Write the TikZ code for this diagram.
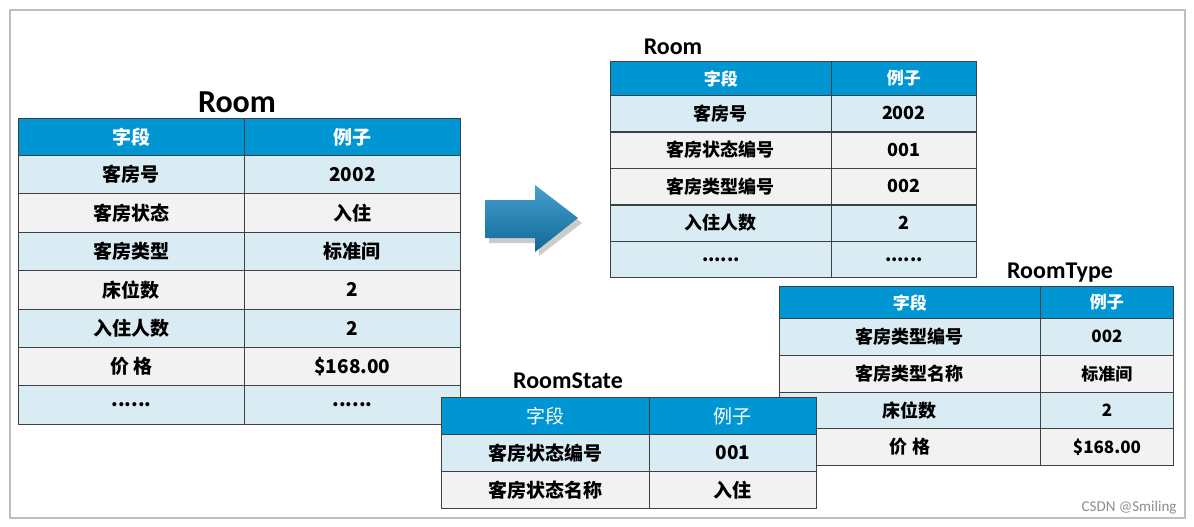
\documentclass[tikz,border=0pt]{standalone}
\usepackage{fontspec}
\setmainfont{Noto Sans CJK SC}
\newfontfamily\latinfont{Carlito}
\usetikzlibrary{positioning}

\definecolor{headblue}{RGB}{0,150,212}
\definecolor{rowblue}{RGB}{218,236,243}
\definecolor{rowgray}{RGB}{242,242,242}
\definecolor{arrowdark}{RGB}{16,104,150}
\definecolor{arrowlight}{RGB}{70,160,205}
\newcommand{\moredots}{......}

\tikzset{
  cell/.style={draw=black!75, line width=0.9pt, anchor=north west, inner sep=0pt, font=\bfseries\fontsize{19}{22}\selectfont},
  headcell/.style={cell, fill=headblue, text=white},
  title/.style={font=\latinfont\bfseries\fontsize{24}{28}\selectfont, inner sep=0pt}
}

\begin{document}
\begin{tikzpicture}[x=1pt, y=-1pt]
\useasboundingbox (0,0) rectangle (1194,527);
% frame
\draw[black!25, line width=1.2pt] (10,10) rectangle (1185,518);

% left table: Room
\node[title, font=\latinfont\bfseries\fontsize{32}{36}\selectfont] (roomA) at (237,102) {Room};
\node[headcell, minimum width=226, minimum height=37] (ha1) at (18,118) {字段};
\node[headcell, minimum width=216, minimum height=37] (ha2) at (244,118) {例子};
\foreach \k/\v/\c [count=\i] in {客房号/2002/rowblue, 客房状态/入住/rowgray, 客房类型/标准间/rowblue,
    床位数/2/rowgray, 入住人数/2/rowblue, 价 格/\$168.00/rowgray, \moredots/\moredots/rowblue} {
  \node[cell, fill=\c, minimum width=226, minimum height=38.4] (ka\i) at (18,{155+38.4*(\i-1)}) {\k};
  \node[cell, fill=\c, minimum width=216, minimum height=38.4] (va\i) at (244,{155+38.4*(\i-1)}) {\v};
}

% arrow
\fill[black!20] (489,205) -- (539,205) -- (539,190) -- (582,223) -- (539,256) -- (539,243) -- (489,243) -- cycle;
\shade[top color=arrowlight, bottom color=arrowdark] (485,200) -- (535,200) -- (535,185) -- (578,218)
  -- (535,252) -- (535,238) -- (485,238) -- cycle;

% right table: Room
\node[title] (roomB) at (673,47) {Room};
\node[headcell, minimum width=221, minimum height=34, font=\bfseries\fontsize{17}{20}\selectfont] (hb1) at (610,61) {字段};
\node[headcell, minimum width=145, minimum height=34, font=\bfseries\fontsize{17}{20}\selectfont] (hb2) at (831,61) {例子};
\foreach \k/\v/\c [count=\i] in {客房号/2002/rowblue, 客房状态编号/001/rowgray, 客房类型编号/002/rowgray,
    入住人数/2/rowblue, \moredots/\moredots/rowblue} {
  \node[cell, fill=\c, minimum width=221, minimum height=36, font=\bfseries\fontsize{18}{21}\selectfont] (kb\i) at (610,{95+36.5*(\i-1)}) {\k};
  \node[cell, fill=\c, minimum width=145, minimum height=36, font=\bfseries\fontsize{18}{21}\selectfont] (vb\i) at (831,{95+36.5*(\i-1)}) {\v};
}

% RoomType
\node[title] (roomC) at (1060,273) {RoomType};
\node[headcell, minimum width=261, minimum height=32, font=\bfseries\fontsize{17}{20}\selectfont] (hc1) at (779,286) {字段};
\node[headcell, minimum width=133, minimum height=32, font=\bfseries\fontsize{17}{20}\selectfont] (hc2) at (1040,286) {例子};
\foreach \k/\v/\c [count=\i] in {客房类型编号/002/rowblue, 客房类型名称/标准间/rowgray,
    床位数/2/rowblue, 价 格/\$168.00/rowgray} {
  \node[cell, fill=\c, minimum width=261, minimum height=36.75, font=\bfseries\fontsize{18}{21}\selectfont] (kc\i) at (779,{318+36.75*(\i-1)}) {\k};
  \node[cell, fill=\c, minimum width=133, minimum height=36.75, font=\bfseries\fontsize{17}{20}\selectfont] (vc\i) at (1040,{318+36.75*(\i-1)}) {\v};
}

% RoomState
\node[title] (roomD) at (568,381) {RoomState};
\node[headcell, minimum width=208, minimum height=37, font=\fontsize{19}{22}\selectfont] (hd1) at (441,397) {字段};
\node[headcell, minimum width=167, minimum height=37, font=\fontsize{19}{22}\selectfont] (hd2) at (649,397) {例子};
\foreach \k/\v/\c [count=\i] in {客房状态编号/001/rowblue, 客房状态名称/入住/rowgray} {
  \node[cell, fill=\c, minimum width=208, minimum height=37] (kd\i) at (441,{434+37*(\i-1)}) {\k};
  \node[cell, fill=\c, minimum width=167, minimum height=37] (vd\i) at (649,{434+37*(\i-1)}) {\v};
}

% watermark
\node[text=black!45, font=\latinfont\fontsize{15}{18}\selectfont, anchor=east] (mark) at (1180,508) {CSDN @Smiling};
\end{tikzpicture}
\end{document}
